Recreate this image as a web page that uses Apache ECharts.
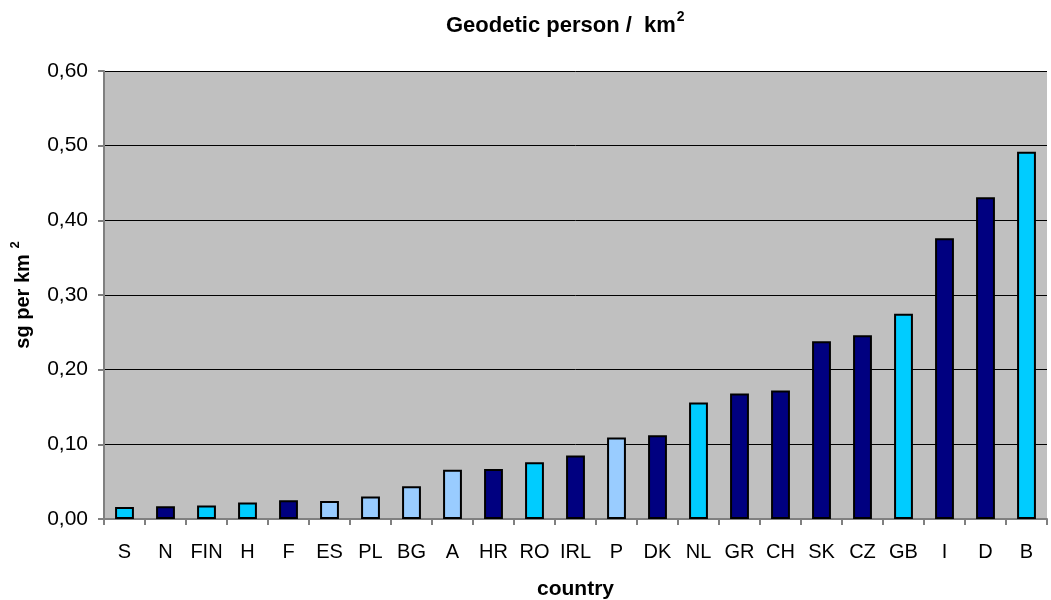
<!DOCTYPE html>
<html>
<head>
<meta charset="utf-8">
<script src="https://cdn.jsdelivr.net/npm/echarts@6/dist/echarts.min.js"></script>
<style>
  html, body { margin: 0; padding: 0; background: #fff; }
  #main { width: 1051px; height: 600px; }
</style>
</head>
<body>
<div id="main"></div>
<script>
// countries, sorted by value
var countries = ['S','N','FIN','H','F','ES','PL','BG','A','HR','RO','IRL','P','DK','NL','GR','CH','SK','CZ','GB','I','D','B'];
var values = [0.016,0.017,0.018,0.022,0.025,0.024,0.030,0.044,0.066,0.067,0.076,0.085,0.109,0.112,0.156,0.168,0.172,0.238,0.246,0.275,0.376,0.431,0.492];
// group of each country (decides the bar colour)
var groups = ['c','n','c','c','n','l','l','l','l','n','c','n','l','n','c','n','n','n','n','c','n','n','c'];
var yTicks = ['0,00','0,10','0,20','0,30','0,40','0,50','0,60'];

var groupColor = { c: '#00CCFF', n: '#000080', l: '#99CCFF' };
var font = 'Liberation Sans, Arial, sans-serif';

var myChart = echarts.init(document.getElementById('main'));

var option = {
  animation: false,
  textStyle: { fontFamily: font },
  title: {
    text: '{t|Geodetic person /  km}{s|2}',
    left: 441,
    top: 5,
    textStyle: {
      rich: {
        t: { fontSize: 22, fontWeight: 'bold', color: '#000', fontFamily: font },
        s: { fontSize: 14, fontWeight: 'bold', color: '#000', fontFamily: font, padding: [0, 0, 17, 1] }
      }
    }
  },
  grid: {
    left: 104, right: 4, top: 71, bottom: 81,
    containLabel: false, outerBoundsMode: 'none',
    show: true, backgroundColor: '#C0C0C0', borderWidth: 0
  },
  xAxis: {
    type: 'category',
    data: countries,
    name: 'country',
    nameLocation: 'middle',
    nameGap: 60,
    nameTextStyle: { fontSize: 21, fontWeight: 'bold', color: '#000', verticalAlign: 'top' },
    axisLine: { lineStyle: { color: '#808080', width: 2 } },
    axisTick: { show: true, length: 6, alignWithLabel: false, lineStyle: { color: '#808080', width: 2 } },
    axisLabel: { fontSize: 20, color: '#000', margin: 23, interval: 0 }
  },
  yAxis: {
    type: 'value',
    min: 0,
    max: 0.6,
    interval: 0.1,
    name: '{t|sg per km }{s|2}',
    nameLocation: 'middle',
    nameGap: 66,
    nameRotate: 90,
    nameTextStyle: {
      rich: {
        t: { fontSize: 20, fontWeight: 'bold', color: '#000', fontFamily: font },
        s: { fontSize: 13, fontWeight: 'bold', color: '#000', fontFamily: font, padding: [0, 0, 16, 0] }
      }
    },
    axisLine: { show: true, lineStyle: { color: '#808080', width: 2 } },
    axisTick: { show: true, length: 6, lineStyle: { color: '#808080', width: 2 } },
    axisLabel: {
      fontSize: 21, color: '#000', margin: 16,
      formatter: function (v) { return yTicks[Math.round(v * 10)]; }
    },
    splitLine: { lineStyle: { color: '#000', width: 1 } }
  },
  series: [{
    type: 'bar',
    barWidth: '46%',
    data: values.map(function (v, i) {
      return { value: v, itemStyle: { color: groupColor[groups[i]] } };
    }),
    itemStyle: { borderColor: '#000', borderWidth: 2 }
  }]
};

myChart.setOption(option);
</script>
</body>
</html>
